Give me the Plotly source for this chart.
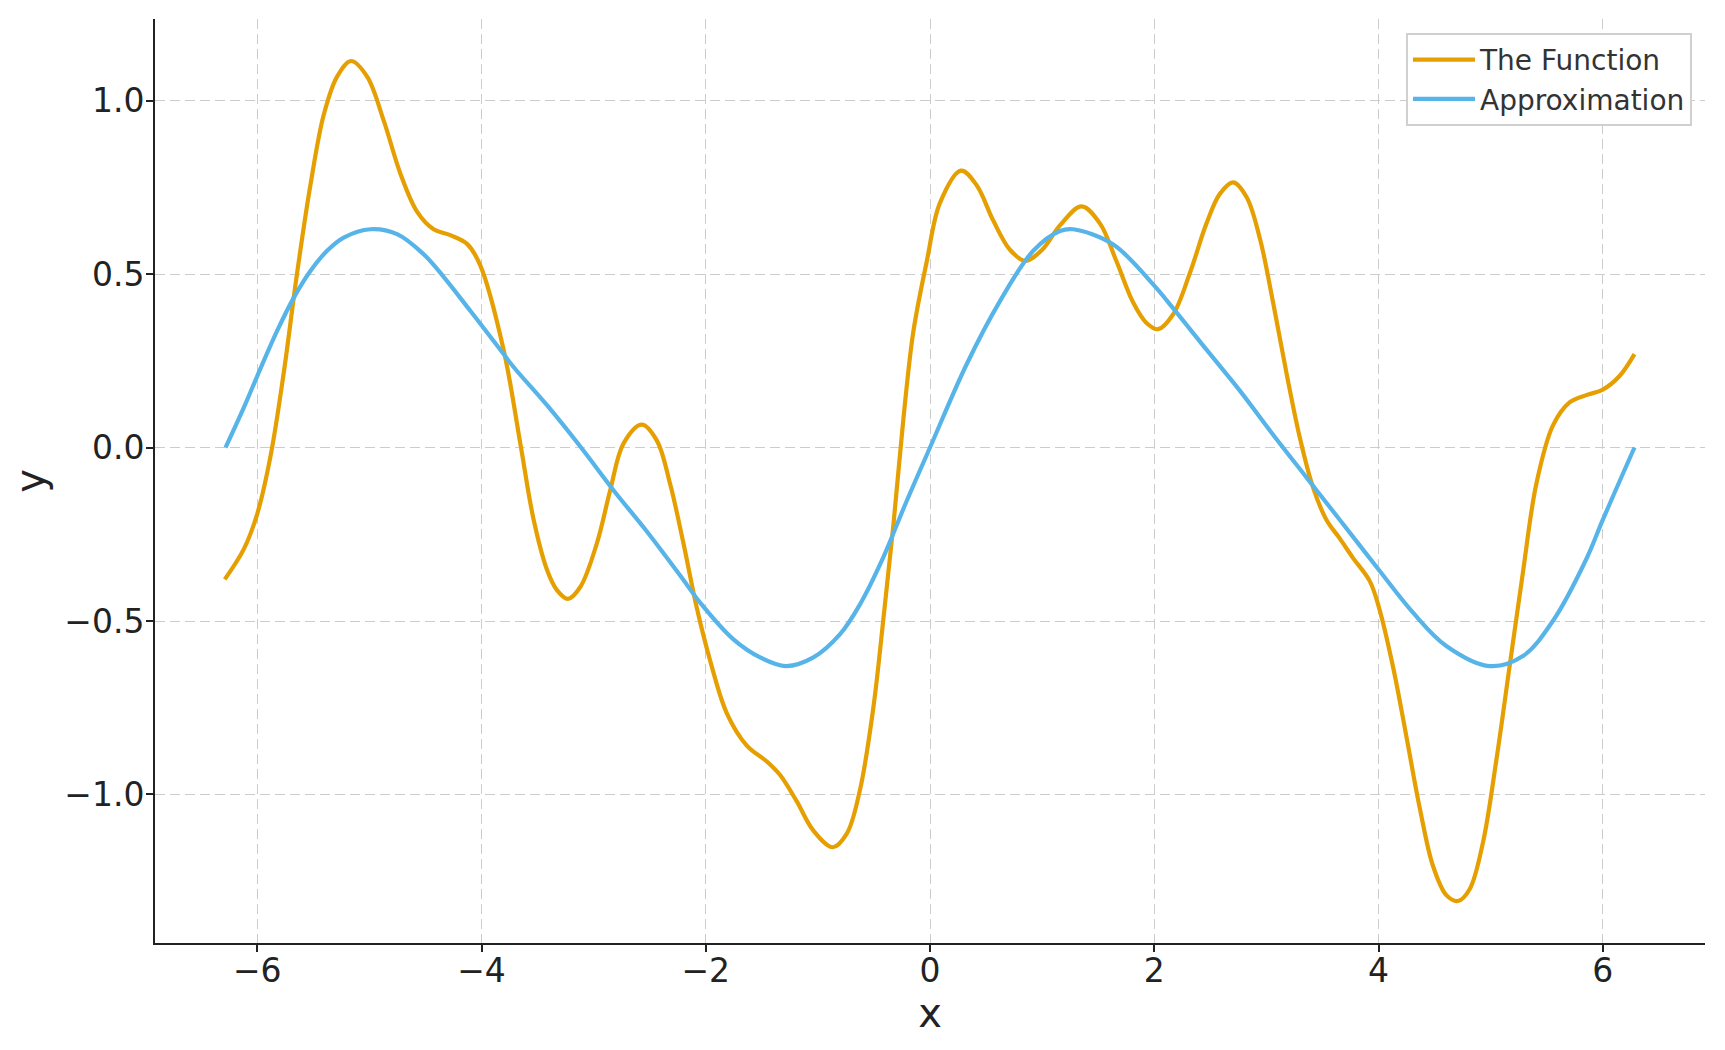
import plotly.graph_objects as go

# The Function
func_x = [-6.29, -6.12, -6.0, -5.88, -5.764, -5.645, -5.526, -5.407, -5.288, -5.163,
          -5.02, -4.872, -4.724, -4.575, -4.427, -4.278, -4.129, -4.011, -3.803, -3.654,
          -3.535, -3.416, -3.327, -3.229, -3.119, -2.971, -2.852, -2.733, -2.57, -2.436,
          -2.317, -2.199, -2.08, -1.961, -1.812, -1.634, -1.455, -1.337, -1.188, -1.04,
          -0.867, -0.742, -0.624, -0.505, -0.416, -0.327, -0.238, -0.149, -0.029, 0.089,
          0.276, 0.416, 0.564, 0.713, 0.85, 1.0, 1.159, 1.352, 1.515, 1.664,
          1.812, 1.931, 2.035, 2.169, 2.317, 2.466, 2.585, 2.704, 2.823, 2.941,
          3.06, 3.179, 3.298, 3.416, 3.535, 3.654, 3.772, 3.922, 4.005, 4.129,
          4.249, 4.367, 4.486, 4.605, 4.709, 4.813, 4.932, 5.051, 5.169, 5.288,
          5.407, 5.555, 5.704, 5.853, 6.001, 6.15, 6.283]
func_y = [-0.38, -0.293, -0.191, -0.022, 0.215, 0.502, 0.756, 0.959, 1.069, 1.114,
          1.069, 0.942, 0.79, 0.68, 0.629, 0.612, 0.587, 0.525, 0.282, 0.012,
          -0.208, -0.352, -0.411, -0.436, -0.402, -0.276, -0.123, 0.012, 0.066, 0.020,
          -0.106, -0.276, -0.462, -0.614, -0.766, -0.859, -0.905, -0.944, -1.02, -1.104,
          -1.152, -1.113, -0.986, -0.749, -0.495, -0.225, 0.08, 0.333, 0.536, 0.705,
          0.798, 0.756, 0.654, 0.57, 0.538, 0.57, 0.64, 0.695, 0.646, 0.536,
          0.418, 0.359, 0.341, 0.384, 0.502, 0.646, 0.731, 0.764, 0.722, 0.604,
          0.418, 0.215, 0.029, -0.115, -0.208, -0.262, -0.318, -0.385, -0.462, -0.631,
          -0.833, -1.037, -1.206, -1.29, -1.307, -1.273, -1.138, -0.901, -0.631, -0.36,
          -0.106, 0.063, 0.13, 0.151, 0.167, 0.206, 0.269]

# Approximation
approx_x = [-6.283, -6.12, -6.0, -5.823, -5.674, -5.526, -5.377, -5.229, -4.991, -4.753,
            -4.516, -4.338, -4.1, -3.832, -3.714, -3.416, -3.119, -2.823, -2.525, -2.228,
            -2.05, -1.753, -1.515, -1.283, -1.04, -0.802, -0.624, -0.431, -0.208, 0.0,
            0.327, 0.624, 0.921, 1.159, 1.277, 1.634, 1.99, 2.169, 2.466, 2.763,
            3.06, 3.357, 3.654, 4.011, 4.308, 4.605, 4.991, 5.288, 5.555, 5.853,
            6.001, 6.283]
approx_y = [0.0, 0.115, 0.206, 0.336, 0.432, 0.509, 0.567, 0.605, 0.629, 0.615,
            0.557, 0.492, 0.394, 0.282, 0.232, 0.122, 0.003, -0.123, -0.242, -0.369,
            -0.447, -0.553, -0.605, -0.630, -0.605, -0.538, -0.452, -0.327, -0.154, 0.0,
            0.24, 0.422, 0.567, 0.624, 0.629, 0.585, 0.47, 0.401, 0.282, 0.164,
            0.037, -0.086, -0.208, -0.356, -0.476, -0.572, -0.63, -0.601, -0.5, -0.322,
            -0.208, 0.0]

x_ticks = [-6, -4, -2, 0, 2, 4, 6]
y_ticks = [-1.0, -0.5, 0.0, 0.5, 1.0]

FONT = "DejaVu Sans"
AXIS_COLOR = "#222222"
GRID = dict(showgrid=True, gridcolor="#cccccc", griddash="10px,5px", gridwidth=1.3)

fig = go.Figure()
fig.add_trace(go.Scatter(x=func_x, y=func_y, mode="lines", name="The Function",
                         line=dict(color="#E69F00", width=4.2, shape="spline", smoothing=1.0)))
fig.add_trace(go.Scatter(x=approx_x, y=approx_y, mode="lines", name="Approximation",
                         line=dict(color="#56B4E9", width=4.2, shape="spline", smoothing=1.0)))

fig.update_layout(
    width=1725, height=1050,
    margin=dict(l=155, r=20, t=19, b=107),
    plot_bgcolor="white", paper_bgcolor="white",
    font=dict(family=FONT, size=33, color=AXIS_COLOR),
    legend=dict(x=0.9916, y=0.985, xanchor="right", yanchor="top",
                bgcolor="white", bordercolor="#d0d0d0", borderwidth=2,
                itemwidth=62,
                font=dict(family=FONT, size=28, color="#333333")),
    xaxis=dict(range=[-6.912, 6.912], tickvals=x_ticks, ticks="outside", ticklen=7,
               tickwidth=1.5, tickcolor=AXIS_COLOR, automargin=False,
               ticklabelstandoff=-10,
               showline=True, linecolor=AXIS_COLOR, linewidth=2, mirror=False,
               zeroline=False, title=dict(text="x", standoff=10), **GRID),
    yaxis=dict(range=[-1.428, 1.235], tickvals=y_ticks, tickformat=".1f", ticks="outside",
               ticklen=7, tickwidth=1.5, tickcolor=AXIS_COLOR, automargin=False,
               ticklabelstandoff=-5,
               showline=True, linecolor=AXIS_COLOR, linewidth=2, mirror=False,
               zeroline=False, title=dict(text="y", standoff=7), **GRID),
)

fig.write_html("out.html", config={"displayModeBar": False},
               post_script="document.body.style.margin='0';document.body.style.overflow='hidden';")
